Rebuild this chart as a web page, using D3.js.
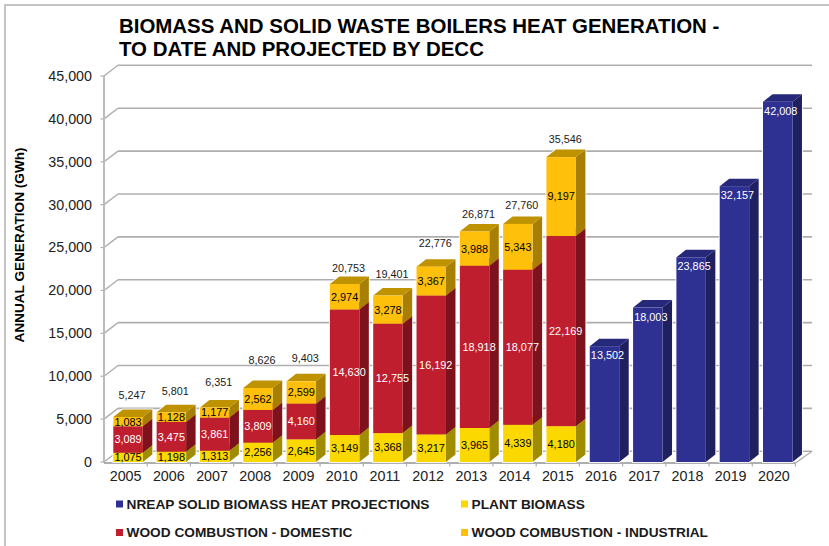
<!DOCTYPE html>
<html><head><meta charset="utf-8">
<script src="https://cdn.jsdelivr.net/npm/d3@7"></script>
<style>html,body{margin:0;padding:0;background:#fff}svg{display:block}text{font-family:"Liberation Sans",Arial,sans-serif}</style>
</head><body><svg id="c" width="829" height="546"></svg>
<script>
const years=[2005,2006,2007,2008,2009,2010,2011,2012,2013,2014,2015,2016,2017,2018,2019,2020];
const plantBiomass=[1075,1198,1313,2256,2645,3149,3368,3217,3965,4339,4180,null,null,null,null,null];
const woodDomestic=[3089,3475,3861,3809,4160,14630,12755,16192,18918,18077,22169,null,null,null,null,null];
const woodIndustrial=[1083,1128,1177,2562,2599,2974,3278,3367,3988,5343,9197,null,null,null,null,null];
const totals=[5247,5801,6351,8626,9403,20753,19401,22776,26871,27760,35546,null,null,null,null,null];
const nreap=[null,null,null,null,null,null,null,null,null,null,null,13502,18003,23865,32157,42008];
const yTicks=[0,5000,10000,15000,20000,25000,30000,35000,40000,45000];
const titleLines=["BIOMASS AND SOLID WASTE BOILERS HEAT GENERATION -","TO DATE AND PROJECTED BY DECC"];
const yAxisTitle="ANNUAL GENERATION (GWh)";
const legendItems=[["NREAP SOLID BIOMASS HEAT PROJECTIONS","nreap"],["PLANT BIOMASS","plant"],["WOOD COMBUSTION - DOMESTIC","domestic"],["WOOD COMBUSTION - INDUSTRIAL","industrial"]];
const palette={nreap:["#2e3192","#1f2060","#26287a","#fff"],plant:["#fbd900","#a08c00","#bfa300","#000"],domestic:["#be1e2d","#7d121c","#96161f","#fff"],industrial:["#ffc00c","#a87f05","#bf9200","#000"]};
const totalLabelLift=[18,17,22,24,19,12,18,20,14,15,14,0,0,0,0,0];
const svg=d3.select("#c"),fmt=d3.format(",");
const y=d3.scaleLinear().domain([0,45000]).range([462,76]);
const x=d3.scaleBand().domain(years).range([106.4,799.4]).paddingInner(0.32).paddingOuter(0.16);
const labelX=d3.scaleBand().domain(years).range([104,795.5]);
const wallDx=14,wallDy=-10.7,barDx=9.5,barDy=-7.5,grid="#aeaeae";

svg.append("rect").attr("x",5).attr("y",5).attr("width",840).attr("height",560).attr("fill","#fff").attr("stroke","#c4c4c4").attr("stroke-width",2);

const g=svg.append("g");
yTicks.forEach(t=>{
  g.append("line").attr("x1",104+wallDx).attr("x2",812).attr("y1",y(t)+wallDy).attr("y2",y(t)+wallDy).attr("stroke",grid).attr("stroke-width",1.6);
  g.append("line").attr("x1",104).attr("x2",104+wallDx).attr("y1",y(t)).attr("y2",y(t)+wallDy).attr("stroke",grid).attr("stroke-width",1.4);
  g.append("line").attr("x1",100.5).attr("x2",104).attr("y1",y(t)).attr("y2",y(t)).attr("stroke",grid).attr("stroke-width",1.2);
  g.append("text").attr("x",92).attr("y",y(t)-0.3).attr("dy","0.36em").attr("text-anchor","end").attr("font-size",14.3).attr("fill","#222").text(fmt(t));
});
g.append("line").attr("x1",104).attr("x2",104).attr("y1",y(45000)).attr("y2",y(0)+1).attr("stroke","#bbb").attr("stroke-width",2);
g.append("line").attr("x1",104).attr("x2",795.5).attr("y1",y(0)+1).attr("y2",y(0)+1).attr("stroke",grid).attr("stroke-width",2);
g.append("line").attr("x1",795.5).attr("x2",812).attr("y1",y(0)+1).attr("y2",y(0)+wallDy).attr("stroke",grid).attr("stroke-width",1.4);
labelX.domain().forEach(d=>{
  g.append("line").attr("x1",labelX(d)+labelX.step()).attr("x2",labelX(d)+labelX.step()).attr("y1",y(0)+1).attr("y2",y(0)+4.5).attr("stroke",grid).attr("stroke-width",1.2);
  g.append("text").attr("x",labelX(d)+labelX.step()/2).attr("y",481).attr("text-anchor","middle").attr("font-size",14.3).attr("fill","#222").text(d);
});

const halo=svg.append("g").attr("fill","#fff").attr("stroke","#fff").attr("stroke-width",2).attr("stroke-opacity",0.85);
function box(year,v0,v1,key,label){
  const p=palette[key],x0=x(year),w=x.bandwidth(),yt=y(v1),yb=y(v0);
  halo.append("path").attr("d",`M${x0},${yb}L${x0+w},${yb}L${x0+w+barDx},${yb+barDy}L${x0+w+barDx},${yt+barDy}L${x0+barDx},${yt+barDy}L${x0},${yt}Z`);
  const b=svg.append("g");
  b.append("path").attr("d",`M${x0+w},${yb}L${x0+w+barDx},${yb+barDy}L${x0+w+barDx},${yt+barDy}L${x0+w},${yt}Z`).attr("fill",p[1]);
  b.append("path").attr("d",`M${x0},${yt}L${x0+barDx},${yt+barDy}L${x0+w+barDx},${yt+barDy}L${x0+w},${yt}Z`).attr("fill",p[2]);
  b.append("rect").attr("x",x0).attr("y",yt).attr("width",w).attr("height",yb-yt).attr("fill",p[0]);
  const shift=label>=10000?4.5:0;
  return ()=>svg.append("text").attr("x",x0+w/2+shift).attr("y",(yt+yb)/2).attr("dy","0.36em").attr("text-anchor","middle").attr("font-size",10.9).attr("fill",p[3]).text(fmt(label));
}
const pending=[];
years.forEach((yr,i)=>{
  if(nreap[i]!=null){
    box(yr,0,nreap[i],"nreap",nreap[i]);
    pending.push(()=>svg.append("text").attr("x",x(yr)+x.bandwidth()/2+3).attr("y",y(nreap[i])+13).attr("text-anchor","middle").attr("font-size",10.9).attr("fill","#fff").text(fmt(nreap[i])));
  } else {
    const a=plantBiomass[i],b=a+woodDomestic[i],c=b+woodIndustrial[i];
    pending.push(box(yr,0,a,"plant",a));
    pending.push(box(yr,a,b,"domestic",woodDomestic[i]));
    pending.push(box(yr,b,c,"industrial",woodIndustrial[i]));
    pending.push(()=>svg.append("text").attr("x",x(yr)+x.bandwidth()/2+4).attr("y",y(c)-totalLabelLift[i]).attr("text-anchor","middle").attr("font-size",10.8).attr("fill","#1a1a1a").text(fmt(totals[i])));
  }
});
pending.forEach(f=>f());

svg.selectAll("text.t").data(titleLines).join("text").attr("class","t").attr("x",119).attr("y",(d,i)=>33+i*23).attr("font-size",20.45).attr("font-weight","bold").attr("fill","#000").text(d=>d);
svg.append("text").attr("transform","translate(24,245) rotate(-90)").attr("text-anchor","middle").attr("font-size",13.6).attr("font-weight","bold").attr("fill","#000").text(yAxisTitle);

const lx=[116,461],ly=[504,532.5];
legendItems.forEach((d,i)=>{
  const cx=lx[i%2],cy=ly[Math.floor(i/2)];
  svg.append("rect").attr("x",cx).attr("y",cy-3.5).attr("width",7).attr("height",7).attr("fill",palette[d[1]][0]);
  svg.append("text").attr("x",cx+10.5).attr("y",cy).attr("dy","0.36em").attr("font-size",13.7).attr("font-weight","bold").attr("fill","#1a1a1a").text(d[0]);
});
</script></body></html>
